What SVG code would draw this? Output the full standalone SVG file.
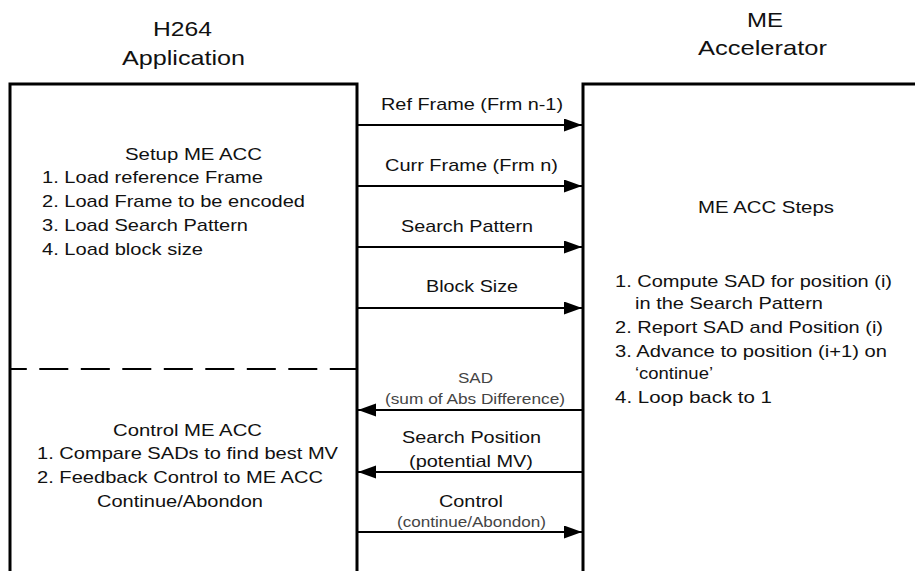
<svg xmlns="http://www.w3.org/2000/svg" width="915" height="571" viewBox="0 0 915 571">
<style>
text{font-family:"Liberation Sans",Arial,sans-serif;fill:#111;}
.t{font-size:21px;}
.b{font-size:17px;}
.s{font-size:14px;fill:#444;}
.box{fill:none;stroke:#000;stroke-width:3;}
.arr{stroke:#000;stroke-width:2.2;fill:none;}
.dash{stroke:#000;stroke-width:2;stroke-dasharray:29 12.5;stroke-dashoffset:12.2;}
</style>
<defs>
<marker id="ah" markerUnits="userSpaceOnUse" markerWidth="19" markerHeight="14" refX="18" refY="6.5" orient="auto">
<path d="M0,0 L18,6.5 L0,13 z" fill="#000"/>
</marker>
</defs>
<rect width="915" height="571" fill="#fff"/>

<g id="h264-app">
<text class="t" x="153" y="36" textLength="59" lengthAdjust="spacingAndGlyphs">H264</text>
<text class="t" x="122" y="65" textLength="123" lengthAdjust="spacingAndGlyphs">Application</text>
<path class="box" d="M10,575 V84 H357 V575"/>
<line class="dash" x1="10" y1="369" x2="357" y2="369"/>
<g id="setup">
<text class="b" x="125" y="160" textLength="137" lengthAdjust="spacingAndGlyphs">Setup ME ACC</text>
<text class="b" x="42" y="183" textLength="221" lengthAdjust="spacingAndGlyphs">1. Load reference Frame</text>
<text class="b" x="42" y="207" textLength="263" lengthAdjust="spacingAndGlyphs">2. Load Frame to be encoded</text>
<text class="b" x="42" y="231" textLength="206" lengthAdjust="spacingAndGlyphs">3. Load Search Pattern</text>
<text class="b" x="42" y="255" textLength="161" lengthAdjust="spacingAndGlyphs">4. Load block size</text>
</g>
<g id="control">
<text class="b" x="113" y="436" textLength="149" lengthAdjust="spacingAndGlyphs">Control ME ACC</text>
<text class="b" x="37" y="459" textLength="301" lengthAdjust="spacingAndGlyphs">1. Compare SADs to find best MV</text>
<text class="b" x="37" y="483" textLength="286" lengthAdjust="spacingAndGlyphs">2. Feedback Control to ME ACC</text>
<text class="b" x="97" y="507" textLength="166" lengthAdjust="spacingAndGlyphs">Continue/Abondon</text>
</g>
</g>

<g id="me-acc">
<text class="t" x="747" y="27" textLength="36" lengthAdjust="spacingAndGlyphs">ME</text>
<text class="t" x="698" y="55" textLength="129" lengthAdjust="spacingAndGlyphs">Accelerator</text>
<path class="box" d="M583,575 V84 H920"/>
<text class="b" x="698" y="213" textLength="136" lengthAdjust="spacingAndGlyphs">ME ACC Steps</text>
<text class="b" x="615" y="287" textLength="277" lengthAdjust="spacingAndGlyphs">1. Compute SAD for position (i)</text>
<text class="b" x="635" y="309" textLength="188" lengthAdjust="spacingAndGlyphs">in the Search Pattern</text>
<text class="b" x="615" y="333" textLength="268" lengthAdjust="spacingAndGlyphs">2. Report SAD and Position (i)</text>
<text class="b" x="615" y="357" textLength="272" lengthAdjust="spacingAndGlyphs">3. Advance to position (i+1) on</text>
<text class="b" x="635" y="379" textLength="78" lengthAdjust="spacingAndGlyphs">‘continue’</text>
<text class="b" x="615" y="403" textLength="157" lengthAdjust="spacingAndGlyphs">4. Loop back to 1</text>
</g>

<g id="connectors">
<line class="arr" x1="358" y1="125" x2="582" y2="125" marker-end="url(#ah)"/>
<text class="b" x="381" y="110" textLength="182" lengthAdjust="spacingAndGlyphs">Ref Frame (Frm n-1)</text>
<line class="arr" x1="358" y1="186" x2="582" y2="186" marker-end="url(#ah)"/>
<text class="b" x="385" y="171" textLength="173" lengthAdjust="spacingAndGlyphs">Curr Frame (Frm n)</text>
<line class="arr" x1="358" y1="247" x2="582" y2="247" marker-end="url(#ah)"/>
<text class="b" x="401" y="232" textLength="132" lengthAdjust="spacingAndGlyphs">Search Pattern</text>
<line class="arr" x1="358" y1="308" x2="582" y2="308" marker-end="url(#ah)"/>
<text class="b" x="426" y="292" textLength="92" lengthAdjust="spacingAndGlyphs">Block Size</text>

<line class="arr" x1="582" y1="410" x2="358" y2="410" marker-end="url(#ah)"/>
<text class="s" x="458" y="383" textLength="35" lengthAdjust="spacingAndGlyphs">SAD</text>
<text class="s" x="385" y="404" textLength="180" lengthAdjust="spacingAndGlyphs">(sum of Abs Difference)</text>
<line class="arr" x1="582" y1="472" x2="358" y2="472" marker-end="url(#ah)"/>
<text class="b" x="402" y="443" textLength="139" lengthAdjust="spacingAndGlyphs">Search Position</text>
<text class="b" x="409" y="467" textLength="124" lengthAdjust="spacingAndGlyphs">(potential MV)</text>
<line class="arr" x1="358" y1="532" x2="582" y2="532" marker-end="url(#ah)"/>
<text class="b" x="439" y="507" textLength="64" lengthAdjust="spacingAndGlyphs">Control</text>
<text class="s" x="397" y="527" textLength="149" lengthAdjust="spacingAndGlyphs">(continue/Abondon)</text>
</g>
</svg>
